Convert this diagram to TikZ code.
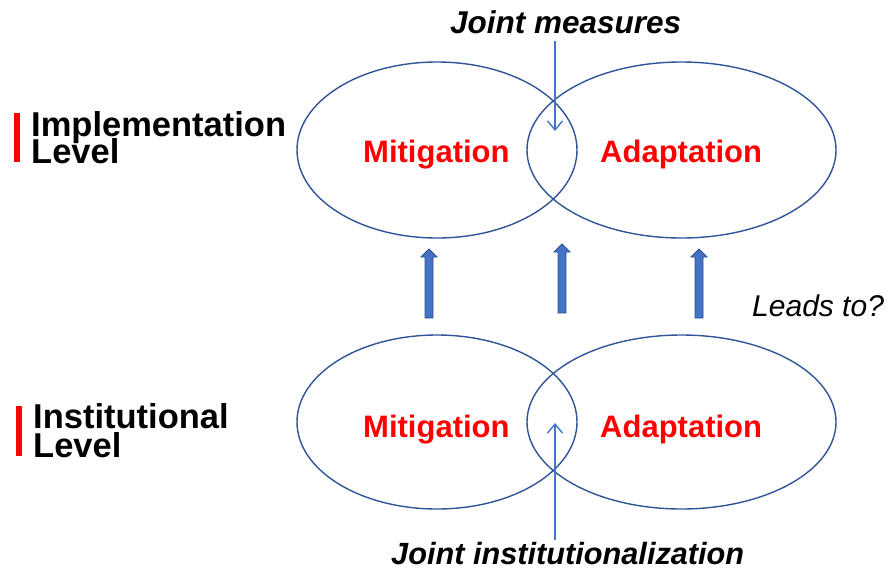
\documentclass[tikz,border=0pt]{standalone}
\usepackage{fontspec}
\setmainfont{Liberation Sans}
\usetikzlibrary{shapes.geometric,arrows.meta}
\definecolor{ringblue}{HTML}{2F5597}
\definecolor{fillblue}{HTML}{4472C4}
\definecolor{edgeblue}{HTML}{2F528F}
\definecolor{labelred}{HTML}{FF0000}
% let lines sit closer than their glyphs would normally allow
\newcommand\tightleading{\lineskiplimit=-60pt\relax\lineskip=0pt\relax}
\tikzset{
  ring/.style={ellipse, draw=ringblue, line width=1.4pt, inner sep=0pt},
  topic/.style={font=\fontsize{31}{36}\selectfont\bfseries, text=labelred, anchor=base west, inner sep=0pt},
  % two-line labels with tight leading; the last line's baseline is the anchor
  levellabel/.style={font={\fontsize{34.5}{#1}\selectfont\bfseries\tightleading},
    align=left, anchor=base west, inner sep=0pt},
  remark/.style={font=\fontsize{#1}{36}\selectfont\bfseries\itshape, anchor=base west, inner sep=0pt},
  pointer/.style={draw=fillblue, line width=1.4pt, -{Straight Barb[length=9pt,width=15pt,line width=1.4pt]}},
  blockarrow/.style={fill=fillblue, draw=edgeblue, line width=0.8pt, line join=miter},
  bar/.style={fill=labelred, draw=none}
}
\begin{document}
\begin{tikzpicture}[x=1pt,y=-1pt]
\useasboundingbox (0,0) rectangle (893,576);

% implementation level rings
\node[ring, minimum width=280pt, minimum height=176pt] (implMit) at (437,150) {};
\node[ring, minimum width=309pt, minimum height=176pt] (implAd) at (681.5,150) {};
% institutional level rings
\node[ring, minimum width=280pt, minimum height=174pt] (instMit) at (437,422) {};
\node[ring, minimum width=309pt, minimum height=174pt] (instAd) at (681.5,422) {};

% ring labels
\node[topic] (tMit1) at (363,162) {Mitigation};
\node[topic] (tAd1) at (600,162) {Adaptation};
\node[topic] (tMit2) at (363,437) {Mitigation};
\node[topic] (tAd2) at (600,437) {Adaptation};

% level labels with red bars
\fill[bar] (14,113) rectangle (20,162);
\node[levellabel=27] (lvImpl) at (31,163) {Implementation\\Level};
\fill[bar] (16,406) rectangle (22,456);
\node[levellabel=29] (lvInst) at (33,457) {Institutional\\Level};

% overlap annotations
\node[remark=31.5] (jm) at (450,33) {Joint measures};
\node[remark=30.7] (ji) at (391,564) {Joint institutionalization};
\node[font=\fontsize{30}{34}\selectfont\itshape, anchor=base west, inner sep=0pt] (lt) at (752,316) {Leads to?};

\coordinate (jmStart) at (555,41);
\coordinate (jmEnd) at (555,131);
\coordinate (jiStart) at (555,540);
\coordinate (jiEnd) at (555,423);
\draw[pointer] (jmStart) -- (jmEnd);
\draw[pointer] (jiStart) -- (jiEnd);

% upward block arrows between the levels
\foreach \cx/\top/\bot in {429/249/318, 562/244/313, 699/249/318}{
  \draw[blockarrow] (\cx-4,\bot) -- (\cx-4,\top+8) -- (\cx-8,\top+8) -- (\cx,\top)
     -- (\cx+8,\top+8) -- (\cx+4,\top+8) -- (\cx+4,\bot) -- cycle;
}
\end{tikzpicture}
\end{document}
